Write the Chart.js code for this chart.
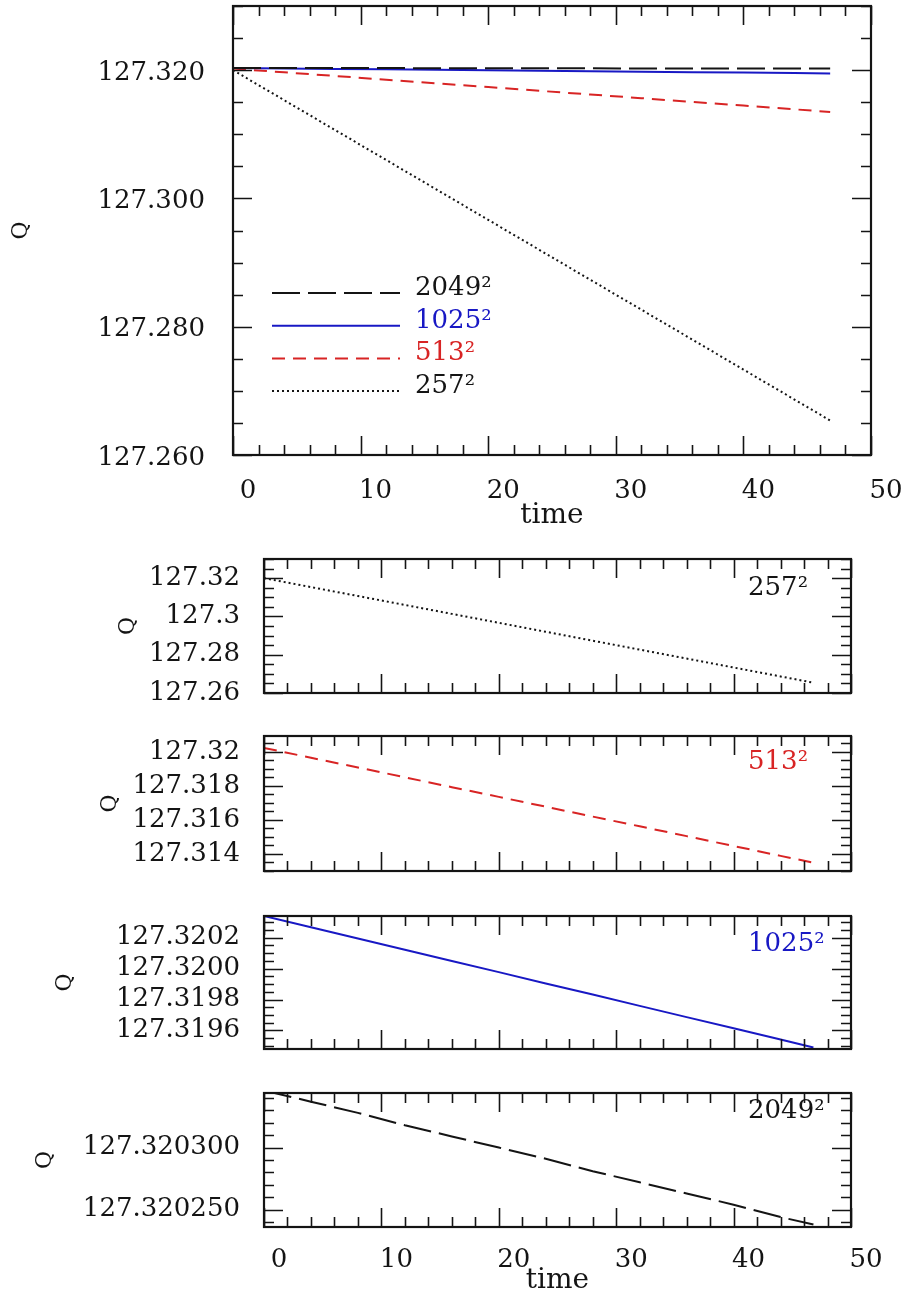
<!DOCTYPE html>
<html>
<head>
<meta charset="utf-8">
<script src="https://cdn.jsdelivr.net/npm/chart.js@4"></script>
<style>
  body { margin: 0; background: #fff; }
  #wrap { position: relative; width: 905px; height: 1301px; }
  canvas { position: absolute; left: 0; }
</style>
</head>
<body>
<div id="wrap">
  <canvas id="cAll" width="905" height="540" style="top:0px"></canvas>
  <canvas id="c257" width="905" height="160" style="top:545px"></canvas>
  <canvas id="c513" width="905" height="170" style="top:712px"></canvas>
  <canvas id="c1025" width="905" height="170" style="top:890px"></canvas>
  <canvas id="c2049" width="905" height="231" style="top:1070px"></canvas>
</div>
<script>
// values
const times = [0, 4, 8, 12, 16, 20, 24, 28, 32, 36, 40, 44, 46.8];
const q257  = [127.32000, 127.31533, 127.31066, 127.30600, 127.30133, 127.29666, 127.29199,
               127.28732, 127.28266, 127.27799, 127.27332, 127.26865, 127.26538];
const q513  = [127.32024, 127.31966, 127.31909, 127.31851, 127.31793, 127.31736, 127.31678,
               127.31620, 127.31563, 127.31505, 127.31447, 127.31389, 127.31349];
const q1025 = [127.320340, 127.320267, 127.320195, 127.320122, 127.320049, 127.319977, 127.319904,
               127.319832, 127.319759, 127.319686, 127.319614, 127.319541, 127.319490];
const q2049 = [127.320346, 127.320337, 127.320328, 127.320318, 127.320309, 127.320300, 127.320291,
               127.320281, 127.320272, 127.320263, 127.320254, 127.320244, 127.320238];

const seriesNames = ['2049\u00b2', '1025\u00b2', '513\u00b2', '257\u00b2'];

const xTicks = [0, 10, 20, 30, 40, 50];
const xTickLabels = ['0', '10', '20', '30', '40', '50'];

const yTicksAll = [127.26, 127.28, 127.30, 127.32];
const yLabelsAll = ['127.260', '127.280', '127.300', '127.320'];
const yTicks257 = [127.26, 127.28, 127.30, 127.32];
const yLabels257 = ['127.26', '127.28', '127.3', '127.32'];
const yTicks513 = [127.314, 127.316, 127.318, 127.32];
const yLabels513 = ['127.314', '127.316', '127.318', '127.32'];
const yTicks1025 = [127.3196, 127.3198, 127.32, 127.3202];
const yLabels1025 = ['127.3196', '127.3198', '127.3200', '127.3202'];
const yTicks2049 = [127.32025, 127.3203];
const yLabels2049 = ['127.320250', '127.320300'];

const FONT = '"DejaVu Serif", "Liberation Serif", serif';
const INK = '#141414';
const BLUE = '#1818c4';
const RED = '#d82424';

const styles = {
  '2049': { borderColor: INK, borderDash: [28, 8], borderWidth: 2 },
  '1025': { borderColor: BLUE, borderDash: [], borderWidth: 2 },
  '513':  { borderColor: RED, borderDash: [13, 8], borderWidth: 2 },
  '257':  { borderColor: INK, borderDash: [2, 3], borderWidth: 2 }
};

function toPoints(vals) {
  return times.map((t, i) => ({ x: t, y: vals[i] }));
}

function series(key, label, vals) {
  return Object.assign({ label: label, data: toPoints(vals), fill: false, tension: 0, pointRadius: 0 }, styles[key]);
}

// values between min and max on a step grid
function gridValues(min, max, step) {
  const out = [];
  const k0 = Math.ceil(min / step - 1e-6), k1 = Math.floor(max / step + 1e-6);
  for (let k = k0; k <= k1; k++) out.push(k * step);
  return out;
}

// box round the plot with inward ticks on all four sides
const framePlugin = {
  id: 'frame',
  afterDatasetsDraw(chart, args, opts) {
    const { ctx, chartArea: a, scales: { x, y } } = chart;
    ctx.save();
    ctx.strokeStyle = INK;
    ctx.lineWidth = 1.6;
    ctx.beginPath();
    gridValues(x.min, x.max, opts.xMinor).forEach(v => {
      const px = Math.round(x.getPixelForValue(v)) + 0.5;
      const major = Math.abs(v / opts.xMajor - Math.round(v / opts.xMajor)) < 1e-6;
      const len = major ? 19 : 10;
      ctx.moveTo(px, a.bottom); ctx.lineTo(px, a.bottom - len);
      ctx.moveTo(px, a.top); ctx.lineTo(px, a.top + len);
    });
    gridValues(y.min, y.max, opts.yMinor).forEach(v => {
      const py = Math.round(y.getPixelForValue(v)) + 0.5;
      const major = opts.yMajor.some(m => Math.abs(m - v) < opts.yMinor * 0.1);
      const len = major ? 19 : 10;
      ctx.moveTo(a.left, py); ctx.lineTo(a.left + len, py);
      ctx.moveTo(a.right, py); ctx.lineTo(a.right - len, py);
    });
    ctx.stroke();
    ctx.lineWidth = 2.2;
    ctx.strokeRect(a.left, a.top, a.right - a.left, a.bottom - a.top);
    ctx.restore();
  }
};

// legend lines of the top panel and the name in each small panel
const notePlugin = {
  id: 'note',
  afterDraw(chart, args, opts) {
    const { ctx, chartArea: a } = chart;
    ctx.save();
    ctx.font = '26px ' + FONT;
    if (opts.legend) {
      chart.data.datasets.forEach((ds, i) => {
        const yy = a.top + opts.legend.y + i * opts.legend.gap;
        ctx.strokeStyle = ds.borderColor;
        ctx.lineWidth = ds.borderWidth;
        ctx.setLineDash(ds.borderDash);
        ctx.beginPath();
        ctx.moveTo(a.left + opts.legend.x0, yy);
        ctx.lineTo(a.left + opts.legend.x1, yy);
        ctx.stroke();
        ctx.setLineDash([]);
        ctx.fillStyle = opts.legend.colors[i];
        ctx.textBaseline = 'alphabetic';
        ctx.fillText(ds.label, a.left + opts.legend.tx, yy + 2);
      });
    }
    if (opts.name) {
      ctx.fillStyle = opts.name.color;
      ctx.textBaseline = 'middle';
      ctx.textAlign = 'left';
      ctx.fillText(opts.name.text, a.left + opts.name.dx, a.top + opts.name.dy);
    }
    ctx.restore();
  }
};

function makeChart(id, c) {
  const canvas = document.getElementById(id);
  return new Chart(canvas.getContext('2d'), {
    type: 'line',
    data: { datasets: c.datasets },
    options: {
      responsive: false,
      animation: false,
      layout: { padding: { top: c.padTop, right: c.padRight, bottom: 0, left: 0 } },
      plugins: {
        legend: { display: false },
        tooltip: { enabled: false },
        frame: c.frame,
        note: c.note
      },
      scales: {
        x: {
          type: 'linear',
          min: 0,
          max: 50,
          grid: { display: false },
          border: { display: false },
          afterBuildTicks: s => { s.ticks = xTicks.map(v => ({ value: v })); },
          afterFit: s => { s.height = c.xHeight; s.paddingLeft = 0; s.paddingRight = 0; },
          ticks: {
            display: c.xLabels,
            autoSkip: false,
            maxRotation: 0,
            padding: c.xPad,
            labelOffset: 15,
            color: INK,
            font: { family: FONT, size: 26 },
            callback: (v, i) => xTickLabels[i]
          },
          title: {
            display: c.xLabels,
            text: 'time',
            color: INK,
            font: { family: FONT, size: 28 },
            padding: { top: 0, bottom: c.timePad }
          }
        },
        y: {
          type: 'linear',
          min: c.yMin,
          max: c.yMax,
          grid: { display: false },
          border: { display: false },
          afterBuildTicks: s => { s.ticks = c.yTicks.map(v => ({ value: v })); },
          afterFit: s => { s.width = c.yWidth; s.paddingTop = 0; s.paddingBottom = 0; },
          ticks: {
            autoSkip: false,
            padding: c.yPad,
            labelOffset: c.yShift,
            color: INK,
            font: { family: FONT, size: 26 },
            callback: (v, i) => c.yLabels[i]
          },
          title: {
            display: true,
            text: 'Q',
            color: INK,
            font: { family: FONT, size: 22 },
            padding: { top: c.qPad, bottom: 0 }
          }
        }
      }
    },
    plugins: [framePlugin, notePlugin]
  });
}

document.addEventListener('DOMContentLoaded', function() {
  // all four resolutions together
  makeChart('cAll', {
    datasets: [
      series('2049', seriesNames[0], q2049),
      series('1025', seriesNames[1], q1025),
      series('513', seriesNames[2], q513),
      series('257', seriesNames[3], q257)
    ],
    padTop: 6, padRight: 34, xHeight: 85, yWidth: 233,
    yMin: 127.26, yMax: 127.33, yTicks: yTicksAll, yLabels: yLabelsAll,
    xLabels: true, xPad: 13, timePad: 7, yPad: 20, yShift: 3, qPad: 8,
    frame: { xMinor: 2, xMajor: 10, yMinor: 0.005, yMajor: yTicksAll },
    note: { legend: { x0: 39, x1: 167, tx: 182, y: 287, gap: 32.7, colors: [INK, BLUE, RED, INK] } }
  });

  makeChart('c257', {
    datasets: [series('257', seriesNames[3], q257)],
    padTop: 14, padRight: 54, xHeight: 12, yWidth: 264,
    yMin: 127.26, yMax: 127.33, yTicks: yTicks257, yLabels: yLabels257,
    xLabels: false, xPad: 10, timePad: 3, yPad: 16, yShift: 0, qPad: 115,
    frame: { xMinor: 2, xMajor: 10, yMinor: 0.005, yMajor: yTicks257 },
    note: { name: { text: seriesNames[3], color: INK, dx: 484, dy: 29 } }
  });

  makeChart('c513', {
    datasets: [series('513', seriesNames[2], q513)],
    padTop: 24, padRight: 54, xHeight: 11, yWidth: 264,
    yMin: 127.313, yMax: 127.32094, yTicks: yTicks513, yLabels: yLabels513,
    xLabels: false, xPad: 10, timePad: 3, yPad: 16, yShift: 0, qPad: 97,
    frame: { xMinor: 2, xMajor: 10, yMinor: 0.0005, yMajor: yTicks513 },
    note: { name: { text: seriesNames[2], color: RED, dx: 484, dy: 26 } }
  });

  makeChart('c1025', {
    datasets: [series('1025', seriesNames[1], q1025)],
    padTop: 26, padRight: 54, xHeight: 11, yWidth: 264,
    yMin: 127.31948, yMax: 127.32034, yTicks: yTicks1025, yLabels: yLabels1025,
    xLabels: false, xPad: 10, timePad: 3, yPad: 16, yShift: 0, qPad: 52,
    frame: { xMinor: 2, xMajor: 10, yMinor: 0.00005, yMajor: yTicks1025 },
    note: { name: { text: seriesNames[1], color: BLUE, dx: 484, dy: 28 } }
  });

  makeChart('c2049', {
    datasets: [series('2049', seriesNames[0], q2049)],
    padTop: 23, padRight: 54, xHeight: 74, yWidth: 264,
    yMin: 127.320236, yMax: 127.320344, yTicks: yTicks2049, yLabels: yLabels2049,
    xLabels: true, xPad: 10, timePad: 3, yPad: 16, yShift: 0, qPad: 32,
    frame: { xMinor: 2, xMajor: 10, yMinor: 0.00001, yMajor: yTicks2049 },
    note: { name: { text: seriesNames[0], color: INK, dx: 484, dy: 18 } }
  });
});
</script>
</body>
</html>
